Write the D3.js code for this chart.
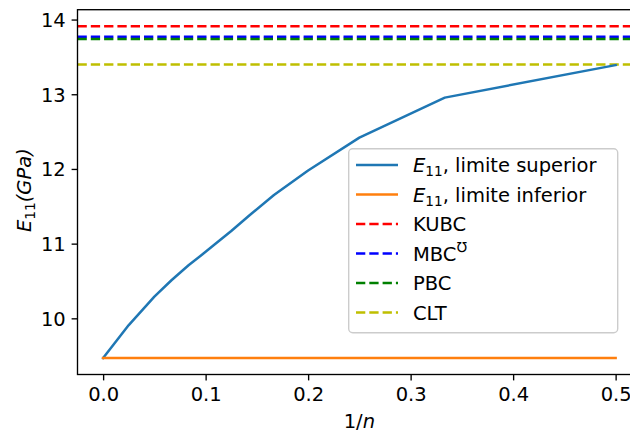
<!DOCTYPE html>
<html>
<head>
<meta charset="utf-8">
<script src="https://cdn.jsdelivr.net/npm/d3@7"></script>
<style>
  body { margin: 0; background: #fff; }
  svg { display: block; font-family: "DejaVu Sans", sans-serif; }
</style>
</head>
<body>
<svg id="chart" width="630" height="432"></svg>
<script>
// x = 1/n
const invN = [0, 1/40, 1/20, 1/15, 1/12, 1/10, 1/9, 1/8, 1/7, 1/6, 1/5, 1/4, 1/3, 1/2];
const upperE11 = [9.47, 9.91, 10.29, 10.51, 10.71, 10.89, 11.015, 11.17, 11.38, 11.65, 11.98, 12.42, 12.955, 13.39];
const lowerE11 = [9.47, 9.47, 9.47, 9.47, 9.47, 9.47, 9.47, 9.47, 9.47, 9.47, 9.47, 9.47, 9.47, 9.47];

const refNames = ["KUBC", "MBC", "PBC", "CLT"];
const refValues = [13.91, 13.77, 13.74, 13.40];
const refColors = ["#ff0000", "#0000ff", "#008000", "#bfbf00"];

const xTicks = [0.0, 0.1, 0.2, 0.3, 0.4, 0.5];
const yTicks = [10, 11, 12, 13, 14];

const svg = d3.select("#chart");
const fs = 19.5;
const axLeft = 77.5, axRight = 641.25, axTop = 9.7, axBottom = 374.5;

// matplotlib-like 5% margins
const xMin = d3.min(invN), xMax = d3.max(invN);
const xPad = (xMax - xMin) * 0.05;
const allY = upperE11.concat(lowerE11, refValues);
const yMin = d3.min(allY), yMax = d3.max(allY);
const yPad = (yMax - yMin) * 0.05;

const x = d3.scaleLinear().domain([xMin - xPad, xMax + xPad]).range([axLeft, axRight]);
const y = d3.scaleLinear().domain([yMin - yPad, yMax + yPad]).range([axBottom, axTop]);

const plot = svg.append("g");

// reference dashed lines
refValues.forEach((v, i) => {
    plot.append("line")
        .attr("x1", x(xMin - xPad)).attr("x2", x(xMax + xPad))
        .attr("y1", y(v)).attr("y2", y(v))
        .attr("stroke", refColors[i])
        .attr("stroke-width", 2.5)
        .attr("stroke-dasharray", "9.3,4");
});

const line = d3.line().x((d, i) => x(invN[i])).y(d => y(d));

plot.append("path").datum(upperE11)
    .attr("d", line).attr("fill", "none")
    .attr("stroke", "#1f77b4").attr("stroke-width", 2.5)
    .attr("stroke-linejoin", "round").attr("stroke-linecap", "square");

plot.append("path").datum(lowerE11)
    .attr("d", line).attr("fill", "none")
    .attr("stroke", "#ff7f0e").attr("stroke-width", 2.5)
    .attr("stroke-linecap", "square");

// axes
const xAxis = svg.append("g")
    .attr("transform", `translate(0,${axBottom})`)
    .call(d3.axisBottom(x).tickValues(xTicks).tickFormat(d3.format(".1f")).tickSize(5.9).tickPadding(5.9));
const yAxis = svg.append("g")
    .attr("transform", `translate(${axLeft},0)`)
    .call(d3.axisLeft(y).tickValues(yTicks).tickFormat(d3.format("d")).tickSize(5.9).tickPadding(5.9));

[xAxis, yAxis].forEach(a => {
    a.select(".domain").remove();
    a.selectAll(".tick line").attr("stroke", "#000").attr("stroke-width", 1.35);
    a.selectAll(".tick text").attr("fill", "#000")
        .style("font-family", "DejaVu Sans").style("font-size", fs + "px");
});
xAxis.selectAll(".tick text").attr("dy", "0.76em");
yAxis.selectAll(".tick text").attr("dy", "0.36em");

// frame
svg.append("rect")
    .attr("x", axLeft).attr("y", axTop)
    .attr("width", axRight - axLeft).attr("height", axBottom - axTop)
    .attr("fill", "none").attr("stroke", "#000").attr("stroke-width", 1.35);

// axis labels
const xl = svg.append("text")
    .attr("x", (axLeft + axRight) / 2).attr("y", 428)
    .attr("text-anchor", "middle").style("font-size", fs + "px");
xl.append("tspan").text("1/");
xl.append("tspan").style("font-style", "italic").text("n");

const yl = svg.append("text")
    .attr("transform", `translate(31,${(axTop + axBottom) / 2 - 2}) rotate(-90)`)
    .attr("text-anchor", "middle").style("font-size", fs + "px");
yl.append("tspan").style("font-style", "italic").text("E");
yl.append("tspan").attr("dy", 4).style("font-size", (fs * 0.7) + "px").text("11");
yl.append("tspan").attr("dy", -4).style("font-style", "italic").text("(GPa)");

// legend
const legend = svg.append("g");
legend.append("rect")
    .attr("x", 348.7).attr("y", 148.7).attr("width", 269).attr("height", 184)
    .attr("rx", 4).attr("fill", "#fff").attr("fill-opacity", 0.8)
    .attr("stroke", "#cccccc").attr("stroke-width", 1.4);

const entries = [
    { color: "#1f77b4", dash: null, kind: "e11", rest: ", limite superior" },
    { color: "#ff7f0e", dash: null, kind: "e11", rest: ", limite inferior" }
].concat(refNames.map((n, i) => ({ color: refColors[i], dash: "9.3,4", kind: n })));

entries.forEach((e, i) => {
    const cy = 165 + i * 29.5;
    legend.append("line")
        .attr("x1", 356).attr("x2", 398).attr("y1", cy).attr("y2", cy)
        .attr("stroke", e.color).attr("stroke-width", 2.5)
        .attr("stroke-dasharray", e.dash);
    const t = legend.append("text")
        .attr("x", 413).attr("y", cy + 7).style("font-size", fs + "px");
    if (e.kind === "e11") {
        t.append("tspan").style("font-style", "italic").text("E");
        t.append("tspan").attr("dy", 4).style("font-size", (fs * 0.7) + "px").text("11");
        t.append("tspan").attr("dy", -4).text(e.rest);
    } else if (e.kind === "MBC") {
        t.append("tspan").text("MBC");
        t.append("tspan").attr("dy", -9).style("font-size", (fs * 0.7) + "px").text("\u2127");
    } else {
        t.text(e.kind);
    }
});
</script>
</body>
</html>
